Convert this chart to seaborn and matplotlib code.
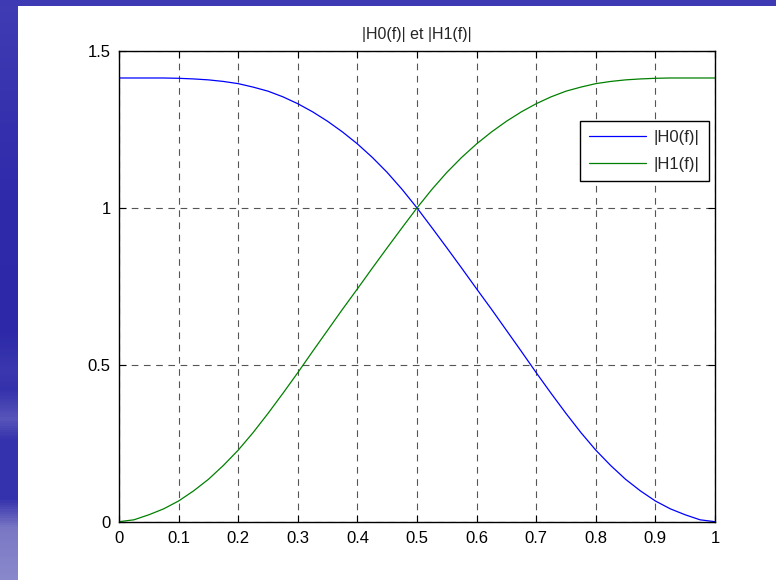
import numpy as np
import pandas as pd
import matplotlib
matplotlib.use("Agg")
import matplotlib.pyplot as plt
from matplotlib.colors import LinearSegmentedColormap, to_rgb
import seaborn as sns

# ---------------- data ----------------
f = [0.000, 0.025, 0.050, 0.075, 0.100, 0.125, 0.150, 0.175, 0.200, 0.225,
     0.250, 0.275, 0.300, 0.325, 0.350, 0.375, 0.400, 0.425, 0.450, 0.475,
     0.500, 0.525, 0.550, 0.575, 0.600, 0.625, 0.650, 0.675, 0.700, 0.725,
     0.750, 0.775, 0.800, 0.825, 0.850, 0.875, 0.900, 0.925, 0.950, 0.975,
     1.000]
H0 = [1.414, 1.414, 1.414, 1.414, 1.413, 1.411, 1.408, 1.403, 1.396, 1.385,
      1.372, 1.354, 1.332, 1.306, 1.276, 1.242, 1.204, 1.161, 1.113, 1.059,
      1.000, 0.937, 0.873, 0.808, 0.742, 0.677, 0.610, 0.543, 0.475, 0.409,
      0.345, 0.284, 0.228, 0.179, 0.135, 0.098, 0.066, 0.041, 0.022, 0.006,
      0.000]
H1 = [0.000, 0.006, 0.022, 0.041, 0.066, 0.098, 0.135, 0.179, 0.228, 0.284,
      0.345, 0.409, 0.475, 0.543, 0.610, 0.677, 0.742, 0.808, 0.873, 0.937,
      1.000, 1.059, 1.113, 1.161, 1.204, 1.242, 1.276, 1.306, 1.332, 1.354,
      1.372, 1.385, 1.396, 1.403, 1.408, 1.411, 1.413, 1.414, 1.414, 1.414,
      1.414]
series_labels = ["|H0(f)|", "|H1(f)|"]
title = "|H0(f)| et |H1(f)|"
xticks = [0, 0.1, 0.2, 0.3, 0.4, 0.5, 0.6, 0.7, 0.8, 0.9, 1]
xticklabels = ["0", "0.1", "0.2", "0.3", "0.4", "0.5", "0.6", "0.7", "0.8", "0.9", "1"]
yticks = [0, 0.5, 1, 1.5]
yticklabels = ["0", "0.5", "1", "1.5"]

df = pd.DataFrame({"f": f, "H0": H0, "H1": H1})

# ---------------- style ----------------
sns.set_theme(style="white")
plt.rcParams["font.family"] = ["Liberation Sans", "DejaVu Sans"]

W, H = 776, 580
fig = plt.figure(figsize=(W / 100, H / 100), dpi=100)
fig.patch.set_facecolor("white")

# decorative blue background strips (left and top)
bg = fig.add_axes([0, 0, 1, 1], zorder=-10)
bg.set_axis_off()
stops = [(0, "#403cb4"), (200, "#2e2aaa"), (330, "#2c28a8"), (370, "#3a37af"),
         (390, "#3431ac"), (420, "#5856ba"), (440, "#3633ad"), (500, "#3532ad"),
         (530, "#7a78c4"), (580, "#8a88cc")]
cmap = LinearSegmentedColormap.from_list("strip", [(p / 580, to_rgb(c)) for p, c in stops])
grad = np.linspace(0, 1, 580).reshape(-1, 1)
bg.imshow(grad, cmap=cmap, aspect="auto", extent=[0, 18 / W, 0, 1], origin="upper",
          vmin=0, vmax=1)
bg.add_patch(plt.Rectangle((0, 1 - 6 / H), 1, 6 / H, color="#3e3ab3", lw=0))
bg.set_xlim(0, 1)
bg.set_ylim(0, 1)

ax = fig.add_axes([119 / W, (H - 521.7) / H, 596 / W, 470.7 / H])
ax.set_facecolor("white")

sns.lineplot(data=df, x="f", y="H0", ax=ax, color="#0000ff", lw=0.9,
             label=series_labels[0])
sns.lineplot(data=df, x="f", y="H1", ax=ax, color="#008000", lw=0.9,
             label=series_labels[1])

ax.set_xlim(0, 1)
ax.set_ylim(0, 1.5)
ax.set_xticks(xticks)
ax.set_xticklabels(xticklabels)
ax.set_yticks(yticks)
ax.set_yticklabels(yticklabels)
ax.set_xlabel("")
ax.set_ylabel("")
ax.set_title(title, fontsize=11.5, pad=9)

ax.grid(True, color="#555555", linestyle=(0, (6, 5)), linewidth=0.8)
for s in ax.spines.values():
    s.set_visible(True)
    s.set_color("black")
    s.set_linewidth(1.0)
ax.tick_params(direction="in", length=5, width=0.8, colors="black",
               labelsize=12, top=True, right=True, bottom=True, left=True)
ax.tick_params(axis="x", pad=7)
ax.tick_params(axis="y", pad=6)

leg = ax.legend(loc="upper right", bbox_to_anchor=(0.99, 0.851), borderaxespad=0,
                fontsize=12, frameon=True, fancybox=False, handlelength=3.4,
                handletextpad=0.5, borderpad=0.55, labelspacing=0.7)
leg.get_frame().set_edgecolor("black")
leg.get_frame().set_linewidth(1.0)
leg.get_frame().set_alpha(1)

fig.savefig("out.png", dpi=100, facecolor=fig.get_facecolor())
